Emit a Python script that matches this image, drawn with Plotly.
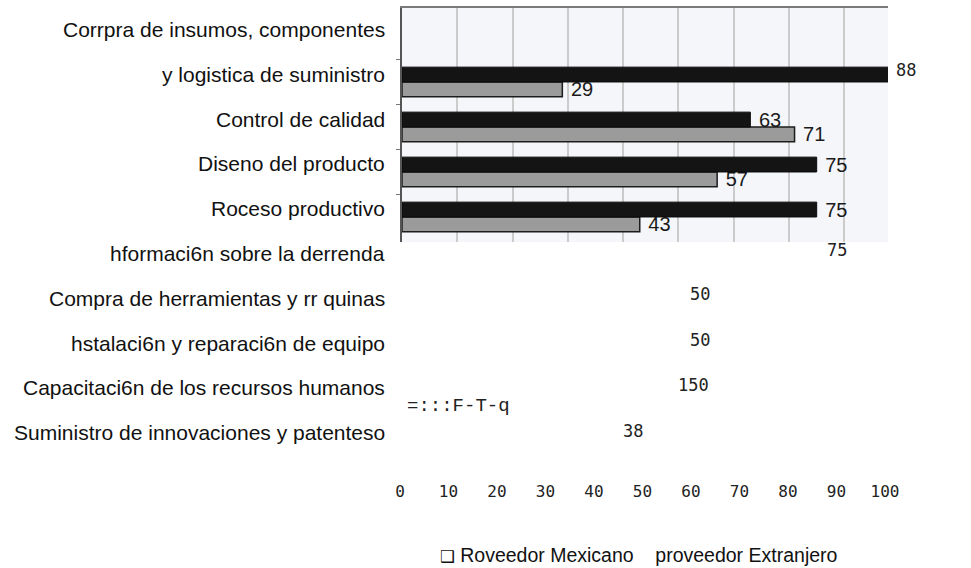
import plotly.graph_objects as go

W, H = 971, 568

# Grouped bars in the scanned panel
bar_categories = ["y logistica de suministro", "Control de calidad",
                  "Diseno del producto", "Roceso productivo"]
extranjero = [88, 63, 75, 75]   # dark bars
mexicano = [29, 71, 57, 43]     # gray bars
x_max = 87.9                    # right edge of the bar panel

# Row captions down the left side
row_labels = [
    "Corrpra de insumos, componentes",
    "y logistica de suministro",
    "Control de calidad",
    "Diseno del producto",
    "Roceso productivo",
    "hformaci6n sobre la derrenda",
    "Compra de herramientas y rr quinas",
    "hstalaci6n y reparaci6n de equipo",
    "Capacitaci6n de los recursos humanos",
    "Suministro de innovaciones y patenteso",
]

# Loose numeric readings printed beside the rows
side_values = ["88", "75", "50", "50", "150", "38"]
side_pos = [(906, 70), (837, 250), (700, 294), (700, 340), (693, 385), (633, 431)]

stray_text = "=:::F-T-q"
axis_ticks = [0, 10, 20, 30, 40, 50, 60, 70, 80, 90, 100]
legend_text = ('<span style="font-size:16.5px">\u2751</span> Roveedor Mexicano'
               '\u00a0\u00a0\u00a0\u00a0proveedor Extranjero')


def px_x(x):
    return x / W


def px_y(y):
    return 1 - y / H


def bar_text(values):
    # values running past the panel edge carry no label inside it
    return ["\u00a0" + str(v) if v < x_max else "" for v in values]


fig = go.Figure()

label_font = dict(family="Liberation Sans, Arial, sans-serif", size=20, color="#1a1a1a")

fig.add_trace(go.Bar(
    y=bar_categories, x=mexicano, orientation="h", name="Proveedor Mexicano",
    marker=dict(color="#9b9b9b", line=dict(color="#1c1c1c", width=1.5)),
    width=0.33, offset=0.0,
    text=bar_text(mexicano), textposition="outside",
    textfont=label_font, constraintext="none", cliponaxis=True,
    showlegend=False, hoverinfo="skip",
))
fig.add_trace(go.Bar(
    y=bar_categories, x=extranjero, orientation="h", name="Proveedor Extranjero",
    marker=dict(color="#141414", line=dict(color="#0a0a0a", width=1.0)),
    width=0.33, offset=-0.33,
    text=bar_text(extranjero), textposition="outside",
    textfont=label_font, constraintext="none", cliponaxis=True,
    showlegend=False, hoverinfo="skip",
))

# Scale numbers along the bottom, placed on their own 0-100 axis
fig.add_trace(go.Scatter(
    x=axis_ticks, y=[0.5] * len(axis_ticks), xaxis="x2", yaxis="y2",
    mode="text", text=[str(t) for t in axis_ticks], textposition="middle center",
    textfont=dict(family="DejaVu Sans Mono, monospace", size=16, color="#222222"),
    cliponaxis=False, showlegend=False, hoverinfo="skip",
))

annotations = []
for i, lab in enumerate(row_labels):
    annotations.append(dict(
        x=px_x(387), y=px_y(29.5 + 44.8 * i), xref="paper", yref="paper",
        text=lab, showarrow=False, xanchor="right", yanchor="middle",
        font=dict(family="Liberation Sans, Arial, sans-serif", size=21, color="#111111"),
    ))

for val, (x, y) in zip(side_values, side_pos):
    annotations.append(dict(
        x=px_x(x), y=px_y(y), xref="paper", yref="paper", text=val,
        showarrow=False, xanchor="center", yanchor="middle",
        font=dict(family="DejaVu Sans Mono, monospace", size=17, color="#222222"),
    ))

annotations.append(dict(
    x=px_x(405), y=px_y(406), xref="paper", yref="paper", text=stray_text,
    showarrow=False, xanchor="left", yanchor="middle",
    font=dict(family="Liberation Mono, Courier New, monospace", size=19, color="#222222"),
))

annotations.append(dict(
    x=px_x(438), y=px_y(555), xref="paper", yref="paper", text=legend_text,
    showarrow=False, xanchor="left", yanchor="middle",
    font=dict(family="Liberation Sans, DejaVu Sans, sans-serif", size=19.5, color="#111111"),
))

# Light backdrop of the bar panel only (kept under the gridlines)
shapes = [dict(
    type="rect", xref="x domain", yref="y domain", x0=0, x1=1, y0=0, y1=1,
    fillcolor="#f4f6f9", line=dict(width=0), layer="below",
)]

fig.update_layout(
    width=W, height=H,
    margin=dict(l=0, r=0, t=0, b=0),
    paper_bgcolor="white",
    plot_bgcolor="rgba(0,0,0,0)",
    barmode="overlay",
    xaxis=dict(
        domain=[px_x(402), px_x(888)], range=[0, x_max], side="top",
        showline=True, linecolor="#7a7a7a", linewidth=2,
        showgrid=True, gridcolor="#cbcbcb", gridwidth=1.5, dtick=10,
        showticklabels=False, ticks="", zeroline=False, fixedrange=True,
    ),
    yaxis=dict(
        domain=[px_y(242), px_y(8)], type="category", categoryarray=bar_categories,
        range=[3.556, -1.644], showticklabels=False,
        showline=True, linecolor="#555555", linewidth=1.5,
        ticks="outside", ticklen=4, tickcolor="#777777", tickson="boundaries",
        showgrid=False, zeroline=False, fixedrange=True,
    ),
    xaxis2=dict(
        domain=[px_x(400), px_x(885)], anchor="y2", range=[0, 100],
        visible=False, fixedrange=True,
    ),
    yaxis2=dict(
        domain=[px_y(500), px_y(486)], anchor="x2", range=[0, 1],
        visible=False, fixedrange=True,
    ),
    shapes=shapes,
    annotations=annotations,
)

fig.write_html("out.html", config={"displayModeBar": False})
